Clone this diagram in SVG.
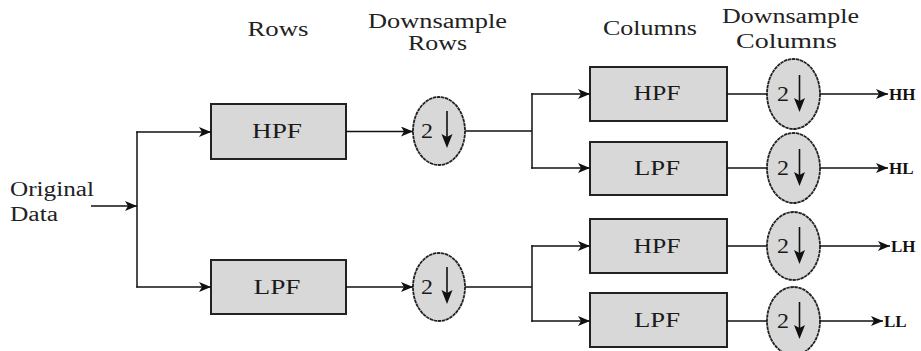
<svg xmlns="http://www.w3.org/2000/svg" width="921" height="351" viewBox="0 0 921 351">
<defs>
<marker id="arr" viewBox="0 0 12 10" refX="12" refY="5" markerWidth="12" markerHeight="10" markerUnits="userSpaceOnUse" orient="auto">
<path d="M0,0 L12,5 L0,10 L3,5 Z" fill="#111"/>
</marker>
<g id="dsym">
<line x1="7" y1="-20" x2="7" y2="8" stroke="#111" stroke-width="1.6"/>
<path d="M1.5,3 L7,6 L12.5,3 L7,17 Z" fill="#111"/>
</g>
<style>
.hdr{font-size:20px;fill:#222;text-anchor:middle;}
.box{fill:#d8d8d8;stroke:#222;stroke-width:2;}
.ell{fill:#d8d8d8;stroke:#222;stroke-width:1.8;stroke-dasharray:3.5 0.6;}
.lbl{font-size:21px;fill:#1a1a1a;text-anchor:middle;}
.two{font-size:21px;fill:#1a1a1a;}
.out{font-size:17px;font-weight:bold;fill:#111;}
.src{font-size:20px;fill:#222;}
.c{stroke:#111;stroke-width:1.5;fill:none;}
</style>
</defs>
<g font-family="'Liberation Serif', 'Times New Roman', Times, serif">
<g id="headers">
<text class="hdr" x="278" y="36" textLength="61" lengthAdjust="spacingAndGlyphs">Rows</text>
<text class="hdr" x="437.5" y="28" textLength="139" lengthAdjust="spacingAndGlyphs">Downsample</text>
<text class="hdr" x="437.5" y="50" textLength="59" lengthAdjust="spacingAndGlyphs">Rows</text>
<text class="hdr" x="650" y="35" textLength="94" lengthAdjust="spacingAndGlyphs">Columns</text>
<text class="hdr" x="790.5" y="23" textLength="137" lengthAdjust="spacingAndGlyphs">Downsample</text>
<text class="hdr" x="786.5" y="48" textLength="101" lengthAdjust="spacingAndGlyphs">Columns</text>
</g>

<g id="original-data">
<text class="src" x="10" y="196" textLength="84" lengthAdjust="spacingAndGlyphs">Original</text>
<text class="src" x="10" y="221" textLength="48" lengthAdjust="spacingAndGlyphs">Data</text>
</g>

<g id="row-hpf">
<rect class="box" x="211" y="104" width="135" height="55"/>
<text class="lbl" x="277" y="138" textLength="50" lengthAdjust="spacingAndGlyphs">HPF</text>
</g>
<g id="row-lpf">
<rect class="box" x="211" y="260" width="135" height="54"/>
<text class="lbl" x="277" y="294" textLength="47" lengthAdjust="spacingAndGlyphs">LPF</text>
</g>

<g id="ds-row-h">
<ellipse class="ell" cx="439" cy="131" rx="26" ry="34"/>
<text class="two" x="421" y="138" textLength="12" lengthAdjust="spacingAndGlyphs">2</text>
<use href="#dsym" x="440" y="131"/>
</g>
<g id="ds-row-l">
<ellipse class="ell" cx="439" cy="287" rx="26" ry="34"/>
<text class="two" x="421" y="294" textLength="12" lengthAdjust="spacingAndGlyphs">2</text>
<use href="#dsym" x="440" y="287"/>
</g>

<g id="col-hpf-1">
<rect class="box" x="590" y="67" width="137" height="54"/>
<text class="lbl" x="657" y="100" textLength="47" lengthAdjust="spacingAndGlyphs">HPF</text>
</g>
<g id="col-lpf-1">
<rect class="box" x="590" y="142" width="137" height="53"/>
<text class="lbl" x="657" y="175" textLength="46" lengthAdjust="spacingAndGlyphs">LPF</text>
</g>
<g id="col-hpf-2">
<rect class="box" x="590" y="219" width="137" height="54"/>
<text class="lbl" x="657" y="253" textLength="47" lengthAdjust="spacingAndGlyphs">HPF</text>
</g>
<g id="col-lpf-2">
<rect class="box" x="590" y="293" width="137" height="54"/>
<text class="lbl" x="657" y="327" textLength="46" lengthAdjust="spacingAndGlyphs">LPF</text>
</g>

<g id="ds-col-1">
<ellipse class="ell" cx="793.5" cy="94" rx="26.5" ry="35"/>
<text class="two" x="777" y="101" textLength="12" lengthAdjust="spacingAndGlyphs">2</text>
<use href="#dsym" x="792.5" y="95"/>
</g>
<g id="ds-col-2">
<ellipse class="ell" cx="793.5" cy="168" rx="26.5" ry="35"/>
<text class="two" x="777" y="175" textLength="12" lengthAdjust="spacingAndGlyphs">2</text>
<use href="#dsym" x="792.5" y="169"/>
</g>
<g id="ds-col-3">
<ellipse class="ell" cx="793.5" cy="246" rx="26.5" ry="34"/>
<text class="two" x="777" y="253" textLength="12" lengthAdjust="spacingAndGlyphs">2</text>
<use href="#dsym" x="792.5" y="247"/>
</g>
<g id="ds-col-4">
<ellipse class="ell" cx="793.5" cy="321" rx="26.5" ry="34"/>
<text class="two" x="777" y="328" textLength="12" lengthAdjust="spacingAndGlyphs">2</text>
<use href="#dsym" x="792.5" y="322"/>
</g>

<g id="outputs">
<text class="out" x="889" y="100">HH</text>
<text class="out" x="889" y="174">HL</text>
<text class="out" x="891" y="252">LH</text>
<text class="out" x="884" y="327">LL</text>
</g>
</g>

<g id="connectors">
<line class="c" x1="91" y1="206" x2="137" y2="206" marker-end="url(#arr)"/>
<line class="c" x1="137" y1="131.5" x2="137" y2="287.5"/>
<line class="c" x1="136.25" y1="132" x2="211" y2="132" marker-end="url(#arr)"/>
<line class="c" x1="136.25" y1="287" x2="211" y2="287" marker-end="url(#arr)"/>
<line class="c" x1="346" y1="131.5" x2="413" y2="131.5" marker-end="url(#arr)"/>
<line class="c" x1="346" y1="287" x2="413" y2="287" marker-end="url(#arr)"/>
<line class="c" x1="465" y1="131" x2="532" y2="131"/>
<line class="c" x1="532" y1="93.25" x2="532" y2="168.75"/>
<line class="c" x1="531.25" y1="94" x2="590" y2="94" marker-end="url(#arr)"/>
<line class="c" x1="531.25" y1="168" x2="590" y2="168" marker-end="url(#arr)"/>
<line class="c" x1="465" y1="287" x2="532" y2="287"/>
<line class="c" x1="532" y1="245.25" x2="532" y2="321.75"/>
<line class="c" x1="531.25" y1="246" x2="590" y2="246" marker-end="url(#arr)"/>
<line class="c" x1="531.25" y1="321" x2="590" y2="321" marker-end="url(#arr)"/>
<line class="c" x1="727" y1="94" x2="767" y2="94"/>
<line class="c" x1="727" y1="168" x2="767" y2="168"/>
<line class="c" x1="727" y1="246" x2="767" y2="246"/>
<line class="c" x1="727" y1="321" x2="767" y2="321"/>
<line class="c" x1="820" y1="94" x2="888" y2="94" marker-end="url(#arr)"/>
<line class="c" x1="820" y1="168" x2="888" y2="168" marker-end="url(#arr)"/>
<line class="c" x1="820" y1="246" x2="890" y2="246" marker-end="url(#arr)"/>
<line class="c" x1="820" y1="321" x2="883" y2="321" marker-end="url(#arr)"/>
</g>
</svg>
